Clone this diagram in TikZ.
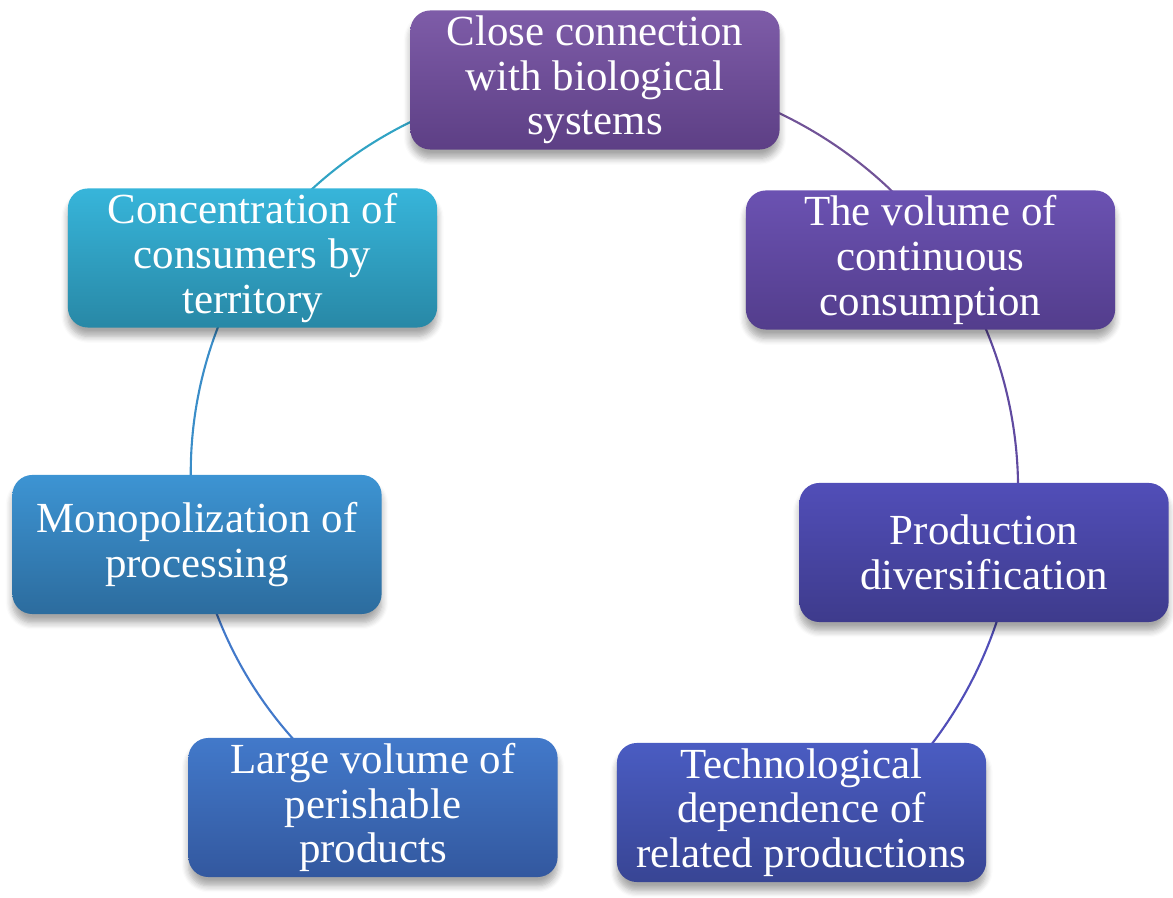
\documentclass[tikz,border=0pt]{standalone}
\usepackage{fontspec}
\setmainfont{Liberation Serif}
\usepackage{xcolor}
\usepackage{tikz}
\usetikzlibrary{shadows.blur,backgrounds}

\definecolor{bioT}{HTML}{7E5CA8}
\definecolor{bioB}{HTML}{5D3F85}
\definecolor{volT}{HTML}{6B52B2}
\definecolor{volB}{HTML}{533D8C}
\definecolor{divT}{HTML}{514EB8}
\definecolor{divB}{HTML}{3E3B8C}
\definecolor{techT}{HTML}{4A5CC2}
\definecolor{techB}{HTML}{384594}
\definecolor{perT}{HTML}{4279CA}
\definecolor{perB}{HTML}{33589F}
\definecolor{monoT}{HTML}{3D94D3}
\definecolor{monoB}{HTML}{2C6C9E}
\definecolor{consT}{HTML}{37B5DA}
\definecolor{consB}{HTML}{2888A6}

\begin{document}
\begin{tikzpicture}[x=0.01cm,y=0.01cm,
    item/.style={rounded corners=2mm,minimum width=3.69cm,minimum height=1.39cm,
      align=center,text=white,inner sep=0pt,
      font=\fontsize{12.2}{12.7}\selectfont,
      blur shadow={shadow xshift=0pt,shadow yshift=-2.5pt,shadow blur steps=6,shadow opacity=35}},
    link/.style={line width=0.6pt,looseness=0.89}]
    \useasboundingbox (0,0) rectangle (1173,-898);
    % boxes around the cycle
    \node[item,top color=bioT,bottom color=bioB] (bio) at (595,-80) {Close connection\\with biological\\systems};
    \node[item,top color=volT,bottom color=volB] (vol) at (930.5,-260) {The volume of\\continuous\\consumption};
    \node[item,top color=divT,bottom color=divB] (div) at (984,-552.5) {Production\\diversification};
    \node[item,top color=techT,bottom color=techB] (tech) at (801.5,-812.5) {Technological\\dependence of\\related productions};
    \node[item,top color=perT,bottom color=perB] (per) at (373,-807.5) {Large volume of\\perishable\\products};
    \node[item,top color=monoT,bottom color=monoB] (mono) at (197,-544.5) {Monopolization of\\processing};
    \node[item,top color=consT,bottom color=consB] (cons) at (252.5,-258) {Concentration of\\consumers by\\territory};
    % connecting arcs, hidden under the boxes at their ends
    \begin{pgfonlayer}{background}
    \draw[link,color=bioT!90!black] ([shift={(0,8)}]bio.center) to[bend left=28] ([shift={(12.7,8.6)}]vol.center);
    \draw[link,color=volT!90!black] ([shift={(12.7,8.6)}]vol.center) to[bend left=22] ([shift={(28.6,-4.6)}]div.center);
    \draw[link,color=divT] ([shift={(28.6,-4.6)}]div.center) to[bend left=24.4] ([shift={(20,-32)}]tech.center);
    \draw[link,color=perT] (per.center) to[bend left=23] (mono.center);
    \draw[link,color=monoT!95!black] (mono.center) to[bend left=20.9] (cons.center);
    \draw[link,color=consT!90!black] (cons.center) to[bend left=28.5] (bio.center);
    \end{pgfonlayer}
\end{tikzpicture}
\end{document}
